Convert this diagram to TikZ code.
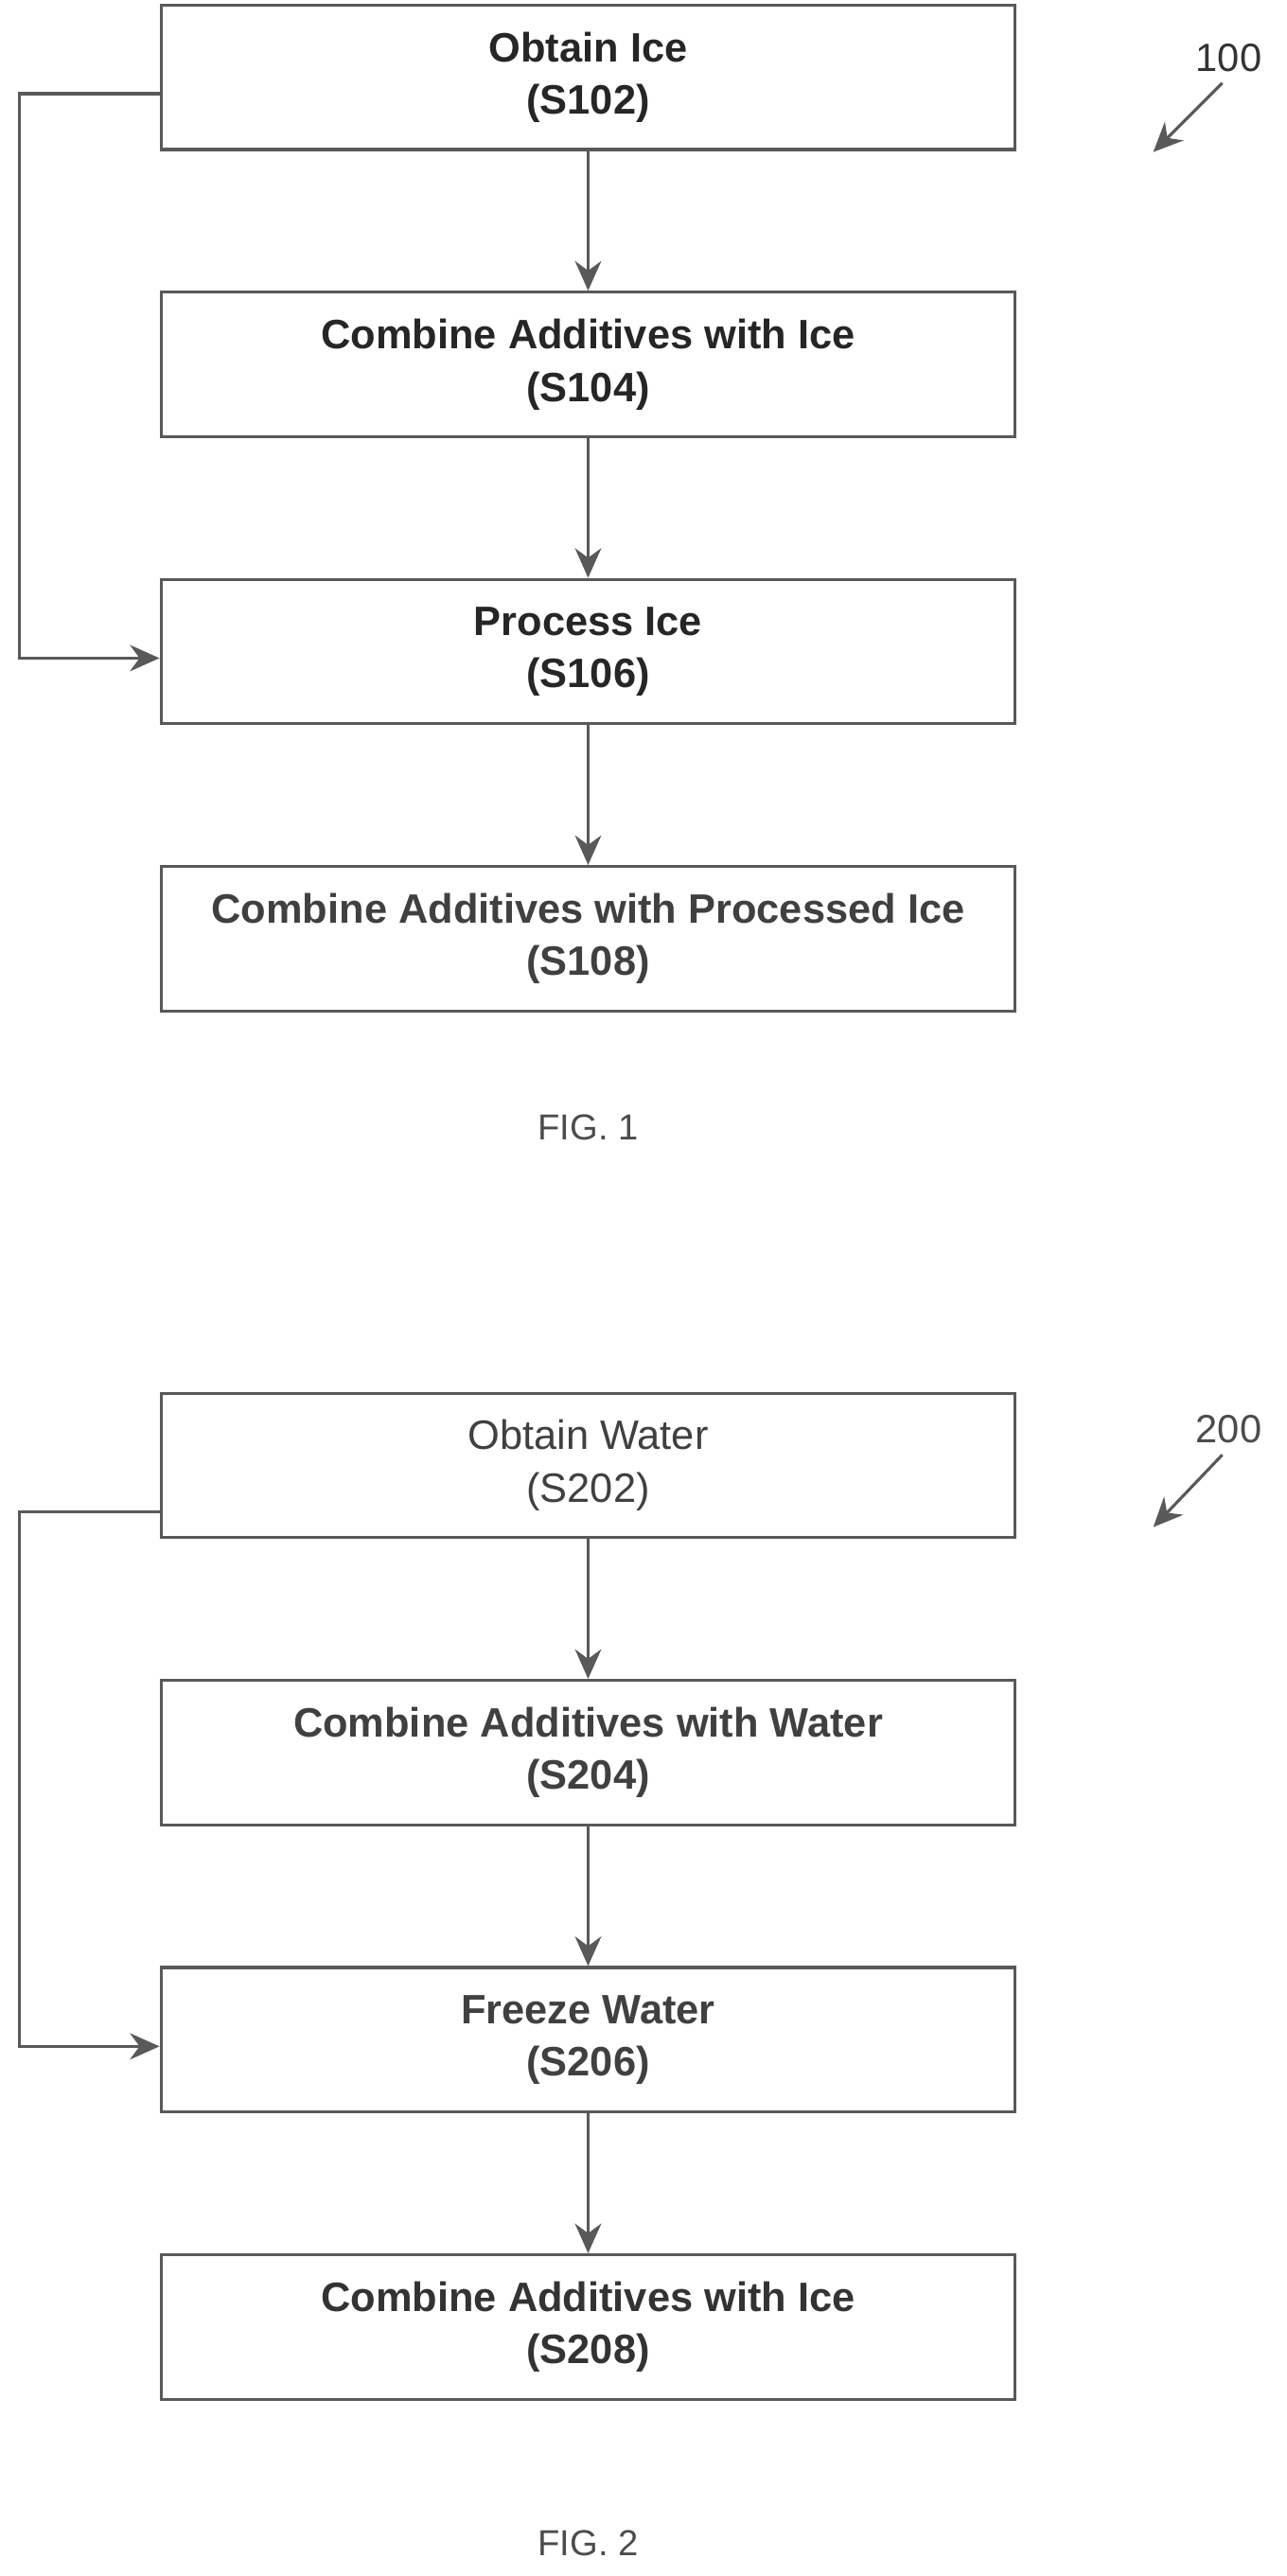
\documentclass[tikz,border=0pt]{standalone}
\usepackage{fontspec}
\setmainfont{Liberation Sans}
\usetikzlibrary{positioning,arrows.meta}
\begin{document}
\begin{tikzpicture}[x=0.5pt,y=-0.5pt,
  stepbox/.style={draw=black!65,line width=0.9pt,minimum width=260pt,minimum height=44pt,
    align=center,font=\fontsize{12.5}{16}\selectfont,inner sep=2pt},
  bstep/.style={stepbox,font=\fontsize{12.5}{16}\selectfont\bfseries},
  flow/.style={draw=black!65,line width=0.9pt,-{Stealth[length=9pt,width=8pt]}},
  node distance=42.5pt]
\useasboundingbox (0,0) rectangle (783,1568);
%% Fig. 1
\node[bstep,text=black!85] (s102) at (358,47) {Obtain Ice\\(S102)};
\node[bstep,text=black!85,below=of s102] (s104) {Combine Additives with Ice\\(S104)};
\node[bstep,text=black!85,below=of s104] (s106) {Process Ice\\(S106)};
\node[bstep,text=black!75,below=of s106] (s108) {Combine Additives with Processed Ice\\(S108)};
\draw[flow] (s102) -- (s104);
\draw[flow] (s104) -- (s106);
\draw[flow] (s106) -- (s108);
\coordinate (l1) at (12,57);
\draw[flow] (s102.west |- l1) -- (l1) |- ([yshift=-2pt]s106.west);
\node[font=\fontsize{11}{12}\selectfont,text=black!70] (fig1) at (358,686) {FIG. 1};
\node[font=\fontsize{12}{13}\selectfont,text=black!80] (n100) at (748,35) {100};
\draw[flow] ([xshift=-2pt]n100.south) -- ++(-42,42);
%% Fig. 2
\node[stepbox,text=black!75] (s202) at (358,892) {Obtain Water\\(S202)};
\node[bstep,text=black!75,below=of s202] (s204) {Combine Additives with Water\\(S204)};
\node[bstep,text=black!75,below=of s204] (s206) {Freeze Water\\(S206)};
\node[bstep,text=black!80,below=of s206] (s208) {Combine Additives with Ice\\(S208)};
\draw[flow] (s202) -- (s204);
\draw[flow] (s204) -- (s206);
\draw[flow] (s206) -- (s208);
\coordinate (l2) at (12,920);
\draw[flow] (s202.west |- l2) -- (l2) |- ([yshift=-2pt]s206.west);
\node[font=\fontsize{11}{12}\selectfont,text=black!70] (fig2) at (358,1548) {FIG. 2};
\node[font=\fontsize{12}{13}\selectfont,text=black!70] (n200) at (748,870) {200};
\draw[flow] ([xshift=-2pt]n200.south) -- ++(-42,44);
\end{tikzpicture}
\end{document}
